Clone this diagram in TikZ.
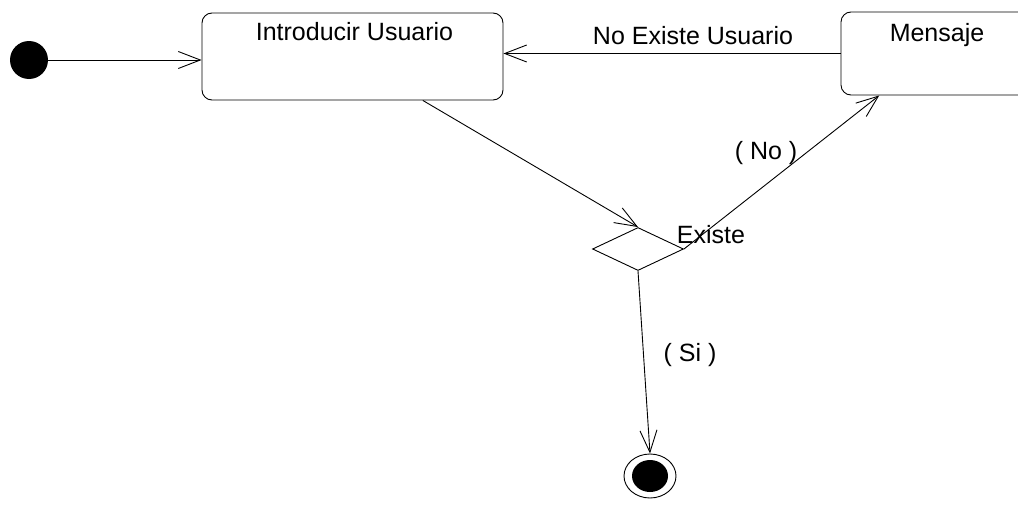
\documentclass[tikz,border=0pt]{standalone}
\usepackage{fontspec}
\setmainfont{Liberation Sans}
\usetikzlibrary{arrows.meta,positioning,shapes.geometric}

\begin{document}
\begin{tikzpicture}[x=1pt,y=-1pt,line width=0.9pt,font=\fontsize{25}{30}\selectfont,state/.style={draw,rounded corners=10pt,inner sep=0pt},arr/.style={-{Straight Barb[length=22pt,width=17pt]}},lbl/.style={anchor=base,inner sep=0pt}]
\useasboundingbox (0,0) rectangle (1018,506);
\clip (0,0) rectangle (1018,506);
\node[circle,fill,minimum size=38pt,inner sep=0pt] (start) at (29,60) {};
\node[state,minimum width=301pt,minimum height=87pt,label={[inner sep=0pt,anchor=north,yshift=-9pt,xshift=2pt]north:Introducir Usuario}] (intro) at (352.5,56.5) {};
\node[state,minimum width=192pt,minimum height=83pt,label={[inner sep=0pt,anchor=north,yshift=-11pt]north:Mensaje}] (msg) at (937,53.5) {};
\node[diamond,draw,minimum width=91pt,minimum height=43pt,inner sep=0pt] (chk) at (638,249) {};
\node[ellipse,draw,minimum width=52pt,minimum height=44pt,inner sep=0pt] (fin) at (650,476) {};
\node[ellipse,fill,minimum width=36pt,minimum height=32pt,inner sep=0pt] (finin) at (fin) {};
% labels
\node[lbl] (noexiste) at (693,45) {No Existe Usuario};
\node[lbl] (existe) at (711,243) {Existe};
\node[lbl] (no) at (766,159) {( No )};
\node[lbl] (si) at (690,361) {( Si )};
\draw[arr](start)--(start -| intro.west);\draw[arr](msg.west)--(msg.west -| intro.east);\draw[arr](intro.-32.8)--(chk.north);\draw[arr](chk.east)--(msg.216);\draw[arr](chk.south)--(fin.north);
\end{tikzpicture}
\end{document}
